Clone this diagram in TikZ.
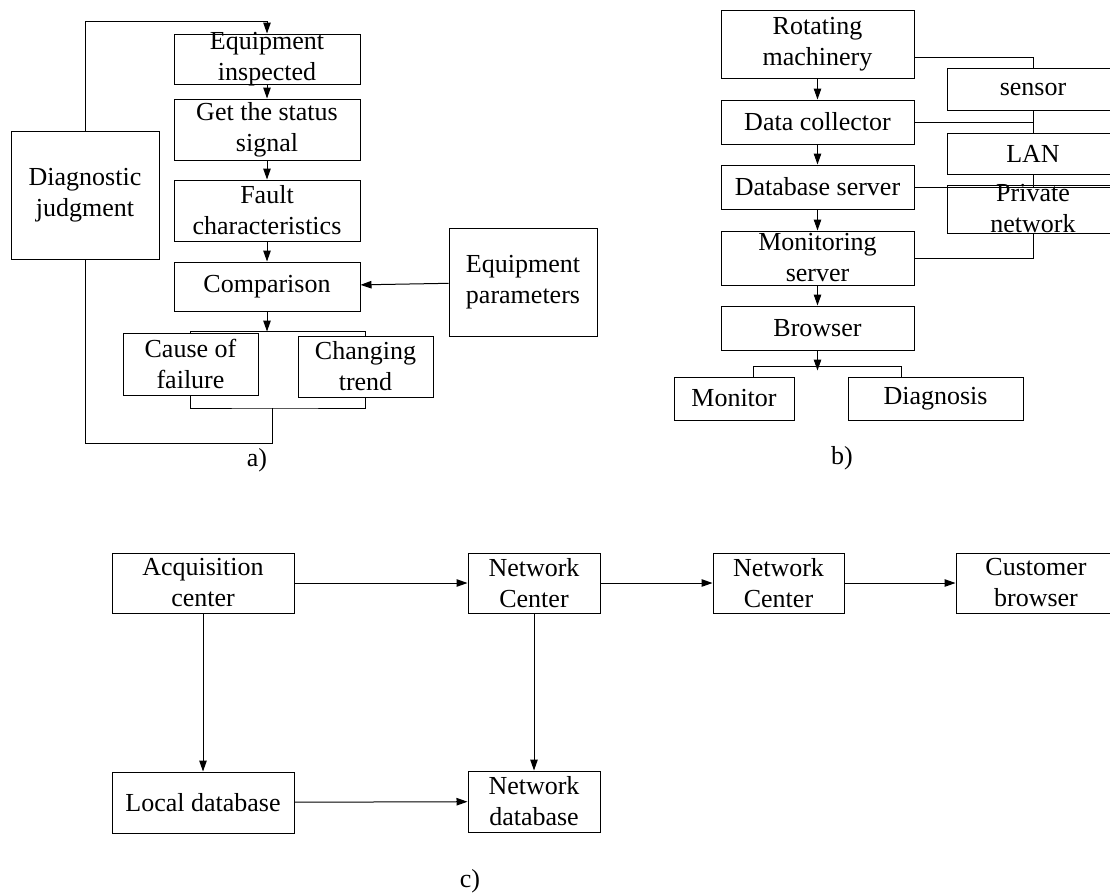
\documentclass[tikz,border=0pt]{standalone}
\usepackage{fontspec}
\setmainfont{Liberation Serif}
\usetikzlibrary{positioning, arrows.meta}

\begin{document}
\begin{tikzpicture}[x=1pt, y=1pt, line width=1pt,
    box/.style={draw, align=center, inner xsep=2pt, inner ysep=-4pt,
        font=\fontsize{26}{31}\selectfont},
    lbl/.style={font=\fontsize{26}{31}\selectfont},
    >={Triangle[length=11pt,width=7.5pt]}]

    \useasboundingbox (0,0) rectangle (1110,-892);

    % a)
    \node[box, minimum width=186pt, minimum height=50pt] (insp) at (267,-59) {Equipment\\inspected};
    \node[box, minimum width=186pt, minimum height=61pt, below=14pt of insp] (sig) {Get the status\\signal};
    \node[box, minimum width=186pt, minimum height=61pt, below=19pt of sig] (fault) {Fault\\characteristics};
    \node[box, minimum width=186pt, minimum height=49pt, below=20pt of fault] (comp) {Comparison};
    \node[box, minimum width=135pt, minimum height=62pt] (cause) at (190.5,-364) {Cause of\\failure};
    \node[box, minimum width=135pt, minimum height=61pt] (trend) at (365.5,-366.5) {Changing\\trend};
    \node[box, minimum width=148pt, minimum height=128pt] (diag) at (85,-195) {Diagnostic\\judgment};
    \node[box, minimum width=148pt, minimum height=108pt] (param) at (523,-282) {Equipment\\parameters};
    \node[lbl] (capA) at (257,-460) {a)};

    \coordinate[above=12pt of insp] (backA);
    \coordinate[below=20pt of comp] (splitA);
    \coordinate (joinA) at (272,-408);

    \path[->]
    (insp) edge (sig)
    (sig) edge (fault)
    (fault) edge (comp)
    (comp) edge (splitA)
    (param) edge (comp);

    \draw (cause.north) |- (splitA) -| (trend.north);
    \draw (cause.south) |- (joinA) -| (trend.south);
    \draw (joinA) -- ++(0,-35) -| (diag.south);
    \draw[->] (diag.north) |- (backA) -- (insp.north);

    % b)
    \node[box, minimum width=193pt, minimum height=68pt] (rot) at (817.5,-44) {Rotating\\machinery};
    \node[box, minimum width=193pt, minimum height=44pt, below=21pt of rot] (coll) {Data collector};
    \node[box, minimum width=193pt, minimum height=44pt, below=20pt of coll] (dbs) {Database server};
    \node[box, minimum width=193pt, minimum height=54pt, below=21pt of dbs] (mon) {Monitoring\\server};
    \node[box, minimum width=193pt, minimum height=44pt, below=20pt of mon] (brw) {Browser};
    \node[box, minimum width=120pt, minimum height=43pt] (scr) at (734,-398.5) {Monitor};
    \node[box, minimum width=175pt, minimum height=43pt] (diagn) at (935.5,-398.5) {Diagnosis};
    \node[box, minimum width=172pt, minimum height=42pt] (sensor) at (1033,-89) {sensor};
    \node[box, minimum width=172pt, minimum height=41pt] (lan) at (1033,-153.5) {LAN};
    \node[box, minimum width=172pt, minimum height=48pt] (priv) at (1033,-209) {Private\\network};
    \node[lbl] (capB) at (842,-458) {b)};

    \coordinate[below=20pt of brw] (splitB);
    \coordinate (brkL) at (753,-366);
    \coordinate (brkR) at (901,-366);

    \path[->]
    (rot) edge (coll)
    (coll) edge (dbs)
    (dbs) edge (mon)
    (mon) edge (brw)
    (brw) edge (splitB);

    \draw (brkL |- scr.north) -- (brkL) -- (brkR) -- (brkR |- diagn.north);
    \draw ([yshift=-13pt]rot.east) -| (sensor.north);
    \draw (sensor.south) -- (lan.north);
    \draw (coll.east) -- (coll.east -| sensor.south);
    \draw (lan.south) -- (lan.south |- dbs.east);
    \draw (dbs.east) -- (dbs.east -| priv.east);
    \draw (mon.east) -| (priv.south);

    % c)
    \node[box, minimum width=182pt, minimum height=60pt] (acq) at (203,-583) {Acquisition\\center};
    \node[box, minimum width=132pt, minimum height=60pt, right=173pt of acq] (nc1) {Network\\Center};
    \node[box, minimum width=131pt, minimum height=60pt, right=112pt of nc1] (nc2) {Network\\Center};
    \node[box, minimum width=160pt, minimum height=60pt, right=111pt of nc2] (cust) {Customer\\browser};
    \node[box, minimum width=182pt, minimum height=61pt, below=158pt of acq] (locdb) {Local database};
    \node[box, minimum width=132pt, minimum height=61pt, below=157pt of nc1] (netdb) {Network\\database};
    \node[lbl] (capC) at (470,-881) {c)};

    \path[->]
    (acq) edge (nc1)
    (nc1) edge (nc2)
    (nc2) edge (cust)
    (acq) edge (locdb)
    (nc1) edge (netdb)
    (locdb) edge (netdb);

\end{tikzpicture}
\end{document}
